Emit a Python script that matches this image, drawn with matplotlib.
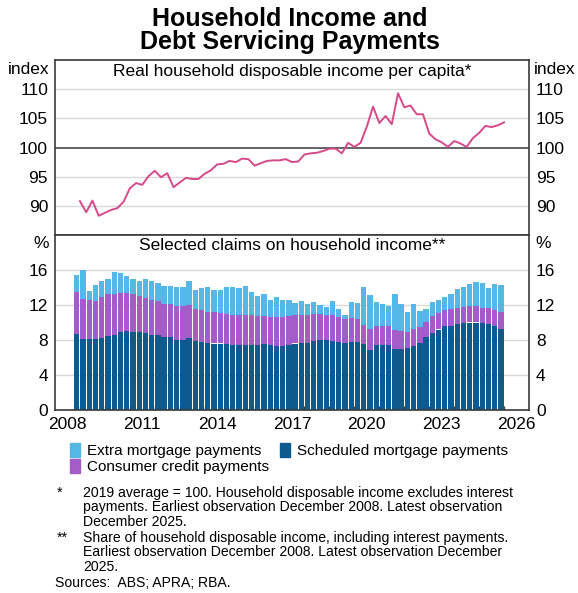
import matplotlib
matplotlib.use('Agg')
import matplotlib.pyplot as plt
from matplotlib.patches import Patch
import numpy as np
import pandas as pd

plt.rcParams['font.family'] = ['Liberation Sans', 'DejaVu Sans']

# quarterly observations, Dec 2008 to Dec 2025
quarters = pd.period_range('2008Q4', '2025Q4', freq='Q')

# real household disposable income per capita, index 2019 = 100
income = [90.8, 88.9, 90.9, 88.3, 88.8, 89.3, 89.6, 90.7, 93.0, 93.9,
          93.6, 95.1, 96.0, 94.9, 95.6, 93.2, 94.0, 94.8, 94.6, 94.6,
          95.5, 96.1, 97.1, 97.2, 97.7, 97.5, 98.1, 98.0, 96.9, 97.3,
          97.7, 97.8, 97.8, 98.0, 97.5, 97.6, 98.8, 99.0, 99.1, 99.4,
          99.8, 99.8, 99.0, 100.8, 100.1, 100.8, 103.6, 107.0, 104.2, 105.4,
          104.0, 109.3, 106.9, 107.2, 105.7, 105.7, 102.4, 101.4, 100.9, 100.1,
          101.1, 100.7, 100.1, 101.6, 102.5, 103.7, 103.5, 103.8, 104.3]

# claims on household income, per cent of disposable income
scheduled = [8.7, 8.1, 8.1, 8.1, 8.2, 8.5, 8.6, 8.9, 9.0, 8.9,
             8.9, 8.8, 8.6, 8.55, 8.3, 8.3, 8.0, 8.0, 8.2, 7.85,
             7.8, 7.7, 7.6, 7.6, 7.5, 7.4, 7.4, 7.4, 7.4, 7.4,
             7.5, 7.4, 7.3, 7.3, 7.4, 7.6, 7.7, 7.7, 7.9, 8.0,
             8.0, 7.9, 7.8, 7.7, 7.8, 7.8, 7.5, 6.9, 7.4, 7.4,
             7.4, 7.0, 7.0, 7.1, 7.3, 7.7, 8.3, 8.8, 9.2, 9.6,
             9.65, 9.8, 9.9, 10.0, 10.0, 9.9, 9.8, 9.6, 9.3]
consumer = [4.8, 4.6, 4.45, 4.4, 4.7, 4.7, 4.65, 4.5, 4.4, 4.3,
            4.1, 4.0, 4.0, 3.85, 3.85, 3.8, 3.85, 3.85, 3.8, 3.65,
            3.6, 3.55, 3.6, 3.5, 3.5, 3.5, 3.4, 3.4, 3.4, 3.3,
            3.2, 3.2, 3.3, 3.3, 3.3, 3.2, 3.2, 3.2, 3.1, 3.0,
            2.9, 2.9, 2.8, 2.7, 2.7, 2.6, 2.2, 2.4, 2.2, 2.25,
            2.25, 2.1, 2.0, 1.85, 1.9, 1.8, 1.8, 1.9, 1.9, 1.8,
            1.85, 1.9, 1.9, 1.9, 1.9, 1.8, 1.8, 1.8, 1.9]
extra = [1.9, 3.3, 1.1, 1.75, 1.8, 1.75, 2.5, 2.2, 1.95, 1.8,
         1.75, 2.2, 2.1, 2.1, 2.0, 2.1, 2.25, 2.25, 2.7, 2.25,
         2.55, 2.85, 2.5, 2.6, 3.0, 3.15, 3.1, 3.4, 2.7, 2.3,
         2.6, 2.0, 2.3, 2.0, 1.9, 1.4, 1.55, 1.2, 1.3, 1.0,
         0.85, 1.6, 0.9, 0.5, 1.8, 1.8, 4.35, 3.8, 2.7, 2.45,
         2.25, 4.2, 3.15, 2.25, 2.9, 1.8, 1.4, 1.6, 1.5, 1.5,
         1.8, 2.1, 2.2, 2.5, 2.7, 2.8, 2.3, 3.0, 3.1]

year_labels = ['2008', '2011', '2014', '2017', '2020', '2023', '2026']

c_line = '#d6498a'
c_extra = '#55b6e8'
c_cons = '#a55ccb'
c_sched = '#0d5a8f'
c_grid = '#d9d9d9'
c_frame = '#3a3a3a'

q_start = quarters.year + (quarters.quarter - 1) / 4
bar_x = q_start + 0.125
line_x = q_start + 0.25
sched = np.array(scheduled)
cons = np.array(consumer)
ext = np.array(extra)

W, H = 578, 593
fig = plt.figure(figsize=(W / 100, H / 100), dpi=100)
ax1 = fig.add_axes([55 / W, 1 - 235 / H, 474 / W, 175 / H])
ax2 = fig.add_axes([55 / W, 1 - 410 / H, 474 / W, 175 / H])

# top panel: income line
ax1.plot(line_x, income, color=c_line, lw=1.4, zorder=3)
ax1.set_ylim(85, 115)
ax1.set_yticks([90, 95, 100, 105, 110])
for v in [90, 95, 105, 110]:
    ax1.axhline(v, color=c_grid, lw=1, zorder=1)
ax1.axhline(100, color=c_frame, lw=1.1, zorder=2)

# bottom panel: stacked bars
bw = 0.25 * 0.85
ax2.bar(bar_x, sched, width=bw, color=c_sched, zorder=2)
ax2.bar(bar_x, cons, width=bw, bottom=sched, color=c_cons, zorder=2)
ax2.bar(bar_x, ext, width=bw, bottom=sched + cons, color=c_extra, zorder=2)
ax2.set_ylim(0, 20)
ax2.set_yticks([0, 4, 8, 12, 16])
for v in [4, 8, 12, 16]:
    ax2.axhline(v, color=c_grid, lw=1, zorder=1)

for ax in (ax1, ax2):
    ax.set_xlim(2008, 2027)
    for s in ax.spines.values():
        s.set_color(c_frame)
        s.set_linewidth(1.2)
    ax.tick_params(axis='y', length=0, pad=5, labelsize=12.5,
                   labelleft=True, labelright=True)

ax1.set_xticks([])
ax2.set_xticks(np.arange(2009, 2027), minor=False)
ax2.set_xticklabels([])
ax2.tick_params(axis='x', which='major', direction='in', length=3,
                width=1, color=c_frame)
ax2.set_xticks(np.arange(2008, 2027, 3) + 0.5, minor=True)
ax2.set_xticklabels(year_labels, minor=True)
ax2.tick_params(axis='x', which='minor', length=0, pad=5, labelsize=12.5)

ax1.text(0.5, 0.935, 'Real household disposable income per capita*',
         transform=ax1.transAxes, ha='center', va='center', fontsize=12.5)
ax2.text(0.5, 0.94, 'Selected claims on household income**',
         transform=ax2.transAxes, ha='center', va='center', fontsize=12.5)

fig.text(50 / W, 1 - 70 / H, 'index', ha='right', va='center', fontsize=12.5)
fig.text(534 / W, 1 - 70 / H, 'index', ha='left', va='center', fontsize=12.5)
fig.text(49 / W, 1 - 244 / H, '%', ha='right', va='center', fontsize=12.5)
fig.text(535 / W, 1 - 244 / H, '%', ha='left', va='center', fontsize=12.5)

fig.text(290 / W, 1 - 30.5 / H, 'Household Income and\nDebt Servicing Payments',
         ha='center', va='center', fontsize=18, fontweight='bold',
         linespacing=1.0)

handles = [Patch(color=c_extra, label='Extra mortgage payments'),
           Patch(color=c_cons, label='Consumer credit payments'),
           Patch(color=c_sched, label='Scheduled mortgage payments')]
fig.legend(handles=handles, ncol=2, loc='upper left',
           bbox_to_anchor=(70 / W, 1 - 443 / H), frameon=False,
           fontsize=11, handlelength=0.65, handleheight=1.05,
           handletextpad=0.45, columnspacing=0.75, labelspacing=0.05,
           borderpad=0, borderaxespad=0)

fs = 10.1
fig.text(57 / W, 1 - 486 / H, '*', ha='left', va='top', fontsize=fs)
fig.text(83 / W, 1 - 486 / H,
         '2019 average = 100. Household disposable income excludes interest\n'
         'payments. Earliest observation December 2008. Latest observation\n'
         'December 2025.', ha='left', va='top', fontsize=fs, linespacing=1.03)
fig.text(57 / W, 1 - 531 / H, '**', ha='left', va='top', fontsize=fs)
fig.text(83 / W, 1 - 531 / H,
         'Share of household disposable income, including interest payments.\n'
         'Earliest observation December 2008. Latest observation December\n'
         '2025.', ha='left', va='top', fontsize=fs, linespacing=1.03)
fig.text(55 / W, 1 - 583 / H, 'Sources:  ABS; APRA; RBA.', ha='left',
         va='center', fontsize=fs)

fig.savefig('out.png', dpi=100)
